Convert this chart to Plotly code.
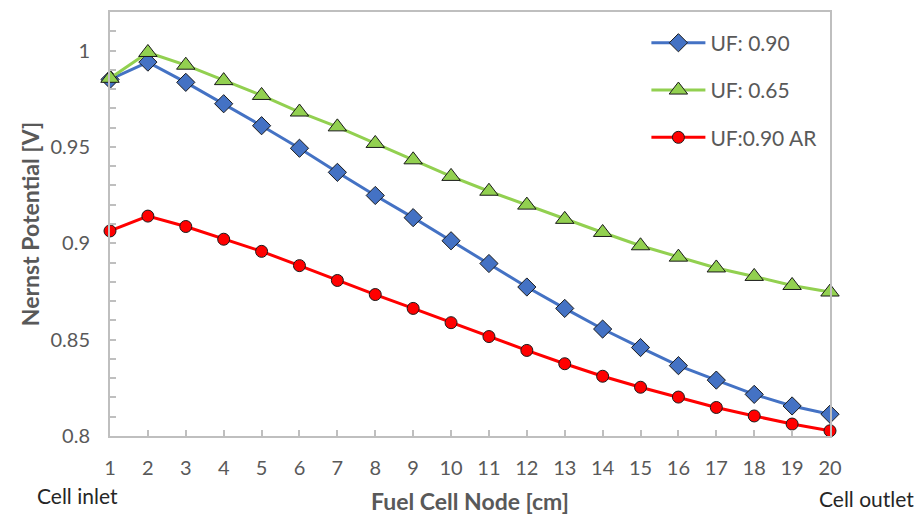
import plotly.graph_objects as go

nodes = list(range(1, 21))
uf090 = [0.985, 0.994, 0.9835, 0.9724, 0.961, 0.9493, 0.9368, 0.9248, 0.9133, 0.9013,
         0.8895, 0.8773, 0.8662, 0.8555, 0.8459, 0.8365, 0.829, 0.8216, 0.8156, 0.8113]
uf065 = [0.9856, 0.999, 0.9924, 0.9844, 0.9767, 0.9681, 0.9604, 0.9518, 0.9433, 0.9347,
         0.927, 0.9198, 0.9124, 0.9056, 0.8987, 0.8928, 0.8872, 0.8828, 0.8781, 0.8747]
uf090ar = [0.9064, 0.9141, 0.9087, 0.9021, 0.8958, 0.8884, 0.8807, 0.8734, 0.8662, 0.8588,
           0.8516, 0.8444, 0.8375, 0.831, 0.8253, 0.8202, 0.8148, 0.8104, 0.8062, 0.8027]
series_names = ["UF: 0.90", "UF: 0.65", "UF:0.90 AR"]

FONT = "Lato, 'Open Sans', sans-serif"
GRAY = "#595959"
AX = "#BFBFBF"

fig = go.Figure()
specs = [
    (uf090, series_names[0], "#4472C4", "diamond", 14),
    (uf065, series_names[1], "#92D050", "triangle-up", 16),
    (uf090ar, series_names[2], "#FF0000", "circle", 12),
]
for i, (vals, name, col, sym, sz) in enumerate(specs):
    fig.add_trace(go.Scatter(
        x=nodes, y=vals, name=name, mode="lines+markers",
        line=dict(color=col, width=3),
        marker=dict(symbol=sym, size=sz, color=col, line=dict(color="#1a1a1a", width=1)),
        cliponaxis=False, legendgroup=f"g{i}",
    ))

fig.update_layout(
    width=916, height=521,
    margin=dict(l=110, r=86, t=10, b=84),
    paper_bgcolor="white", plot_bgcolor="white",
    font=dict(family=FONT, color=GRAY, size=20),
    showlegend=True,
    legend=dict(x=0.745, y=0.975, xanchor="left", yanchor="top",
                font=dict(size=21, color=GRAY, family=FONT),
                tracegroupgap=17, traceorder="grouped", itemwidth=54,
                bgcolor="rgba(0,0,0,0)"),
    xaxis=dict(range=[1, 20], tickmode="array", tickvals=nodes,
               showgrid=False, zeroline=False, showline=True, linecolor=AX, linewidth=2,
               mirror=True, ticks="inside", ticklen=6, tickcolor=AX, tickwidth=1.5,
               tickfont=dict(size=20, color=GRAY), ticklabelstandoff=13,
               title=dict(text="<b>Fuel Cell Node [cm]</b>", font=dict(size=23, color=GRAY), standoff=16)),
    yaxis=dict(range=[0.8, 1.02], tick0=0.8, dtick=0.05,
               showgrid=False, zeroline=False, showline=True, linecolor=AX, linewidth=2,
               mirror=True, ticks="inside", ticklen=6, tickcolor=AX, tickwidth=1.5,
               minor=dict(dtick=0.01, tick0=0.8, ticks="inside", ticklen=6, tickcolor=AX, tickwidth=1.5),
               tickfont=dict(size=20, color=GRAY), ticklabelstandoff=14,
               title=dict(text="<b>Nernst Potential [V]</b>", font=dict(size=23, color=GRAY), standoff=4)),
)

fig.add_annotation(text="Cell inlet", xref="paper", yref="paper", x=-0.104, y=-0.14,
                   xanchor="left", yanchor="middle", showarrow=False,
                   font=dict(size=21, color="#262626", family=FONT))
fig.add_annotation(text="Cell outlet", xref="paper", yref="paper", x=1.12, y=-0.147,
                   xanchor="right", yanchor="middle", showarrow=False,
                   font=dict(size=21, color="#262626", family=FONT))

fig.write_html("out.html")
